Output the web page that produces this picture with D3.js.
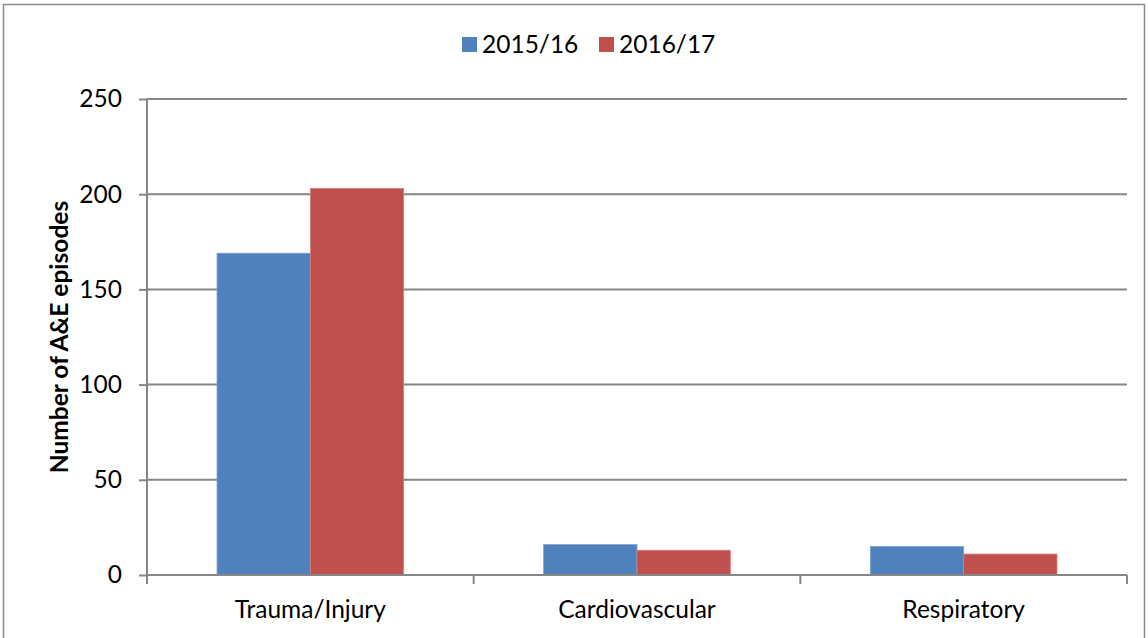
<!DOCTYPE html>
<html>
<head>
<meta charset="utf-8">
<script src="https://cdn.jsdelivr.net/npm/d3@7"></script>
<style>
  html, body { margin: 0; padding: 0; background: #fff; }
  svg { display: block; font-family: Lato, "Open Sans", sans-serif; }
</style>
</head>
<body>
<svg id="chart" width="1148" height="638"></svg>
<script>
// Data
const categories = ["Trauma/Injury", "Cardiovascular", "Respiratory"];
const seriesNames = ["2015/16", "2016/17"];
const values2015 = [169, 16, 15];
const values2016 = [203, 13, 11];
const yTicks = [0, 50, 100, 150, 200, 250];
const colors = ["#4F81BD", "#C0504D"];

const seriesValues = [values2015, values2016];
const rows = categories.map((c, i) => ({
  category: c,
  values: seriesNames.map((s, j) => ({ series: s, value: seriesValues[j][i] }))
}));

const svg = d3.select("#chart");
const plot = { left: 147, right: 1127, top: 99, bottom: 575 };
const gridColor = "#868686";
const fontSize = 24.5;

// Outer frame
svg.append("rect")
  .attr("x", 3.5).attr("y", 4.5)
  .attr("width", 1141).attr("height", 640)
  .attr("fill", "none").attr("stroke", "#8a8a8a").attr("stroke-width", 1.5);

const x0 = d3.scaleBand().domain(categories).range([plot.left, plot.right]).paddingInner(0.4286).paddingOuter(0.2143);
const x1 = d3.scaleBand().domain(seriesNames).range([0, x0.bandwidth()]);
const y = d3.scaleLinear().domain([0, 250]).range([plot.bottom, plot.top]);

// Horizontal gridlines
svg.append("g").selectAll("line").data(yTicks.filter(t => t > 0)).join("line")
  .attr("x1", plot.left).attr("x2", plot.right)
  .attr("y1", d => y(d)).attr("y2", d => y(d))
  .attr("stroke", gridColor).attr("stroke-width", 2);

// Bars
svg.append("g").selectAll("g").data(rows).join("g")
  .attr("transform", d => `translate(${x0(d.category)},0)`)
  .selectAll("rect").data(d => d.values).join("rect")
  .attr("x", d => x1(d.series))
  .attr("y", d => y(d.value))
  .attr("width", x1.bandwidth())
  .attr("height", d => y(0) - y(d.value))
  .attr("fill", (d, i) => colors[i])
  .attr("stroke", (d, i) => i === 0 ? "#7fa3d0" : "#d9807d")
  .attr("stroke-width", 0.8);

// Y axis
const yAxis = d3.axisLeft(y).tickValues(yTicks).tickSize(8).tickPadding(17).tickFormat(d3.format("d"));
const gy = svg.append("g").attr("transform", `translate(${plot.left},0)`).call(yAxis);
gy.select(".domain").attr("stroke", gridColor).attr("stroke-width", 2)
  .attr("d", `M0,${plot.top}V${plot.bottom + 9}`);
gy.selectAll(".tick line").attr("stroke", gridColor).attr("stroke-width", 2);
gy.selectAll(".tick text").attr("font-size", fontSize).attr("fill", "#000")
  .attr("font-family", "Lato, sans-serif");

// X axis baseline with boundary ticks
const boundaries = [plot.left, ...categories.map(c => x0(c) + x0.bandwidth() + x0.step() * x0.paddingInner() / 2).slice(0, -1), plot.right];
svg.append("line")
  .attr("x1", plot.left).attr("x2", plot.right)
  .attr("y1", y(0)).attr("y2", y(0))
  .attr("stroke", gridColor).attr("stroke-width", 2);
svg.append("g").selectAll("line").data(boundaries).join("line")
  .attr("x1", d => d).attr("x2", d => d)
  .attr("y1", y(0)).attr("y2", y(0) + 9)
  .attr("stroke", gridColor).attr("stroke-width", 2);

// Category labels
svg.append("g").selectAll("text").data(categories).join("text")
  .attr("x", d => x0(d) + x0.bandwidth() / 2)
  .attr("y", 618)
  .attr("text-anchor", "middle")
  .attr("font-size", fontSize)
  .attr("fill", "#000")
  .text(d => d);

// Y axis title
svg.append("text")
  .attr("transform", `translate(68,${(plot.top + plot.bottom) / 2}) rotate(-90)`)
  .attr("text-anchor", "middle")
  .attr("font-size", fontSize)
  .attr("font-weight", "bold")
  .attr("fill", "#000")
  .text("Number of A&E episodes");

// Legend
const legendItems = [
  { name: seriesNames[0], color: colors[0], x: 462 },
  { name: seriesNames[1], color: colors[1], x: 599 }
];
const lg = svg.append("g").selectAll("g").data(legendItems).join("g")
  .attr("transform", d => `translate(${d.x},0)`);
lg.append("rect").attr("x", 0).attr("y", 37).attr("width", 15).attr("height", 15)
  .attr("fill", d => d.color);
lg.append("text").attr("x", 20).attr("y", 53).attr("font-size", fontSize).attr("fill", "#000")
  .text(d => d.name);
</script>
</body>
</html>
